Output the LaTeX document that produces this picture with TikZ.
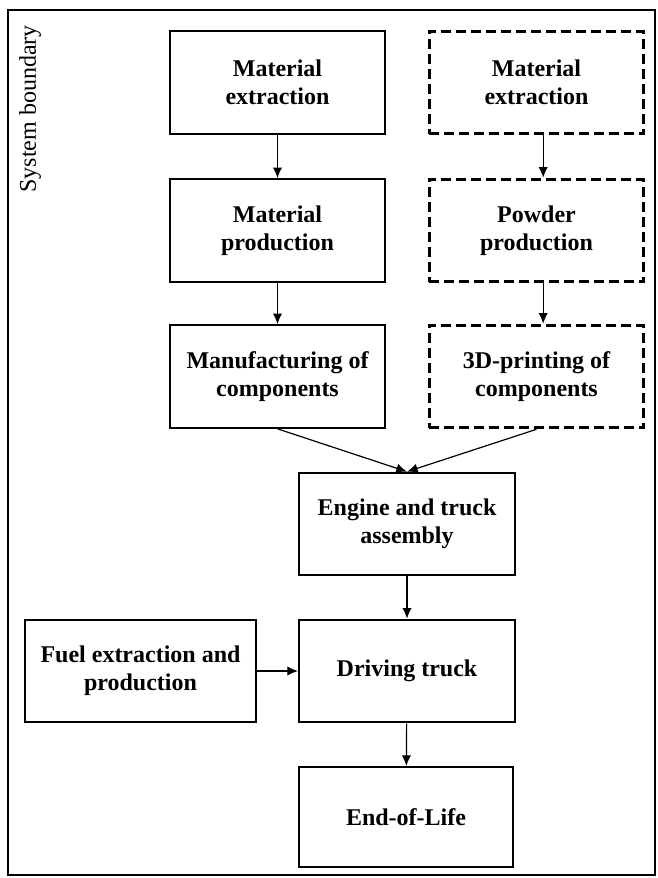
\documentclass[tikz,border=0pt]{standalone}
\usepackage{fontspec}
\setmainfont{Liberation Serif}
\usetikzlibrary{arrows.meta}

\tikzset{
  stage/.style={draw, line width=1.5pt, align=center, inner sep=0pt,
    font=\fontsize{18}{21}\selectfont\bfseries,
    minimum width=161pt, minimum height=77pt},
  optstage/.style={stage, line width=2.2pt, dash pattern=on 7.5pt off 3.75pt},
  flow/.style={-{Latex[length=8pt, width=7pt]}, line width=0.9pt}
}

\begin{document}
\begin{tikzpicture}[x=0.75pt, y=-0.75pt]
\useasboundingbox (0,0) rectangle (657,878);
% system boundary
\draw[line width=1.1pt] (8,10) rectangle (655,875);
\node (sysb) [rotate=90, anchor=north east, inner sep=0pt, font=\fontsize{18}{21}\selectfont] at (19,25) {System boundary};

% conventional route
\node (matL) [stage] at (277.5,82.5) {Material\\extraction};
\node (prodL) [stage] at (277.5,230.5) {Material\\production};
\node (manuL) [stage] at (277.5,376.5) {Manufacturing of\\components};

% additive route
\node (matR) [optstage] at (536.5,82.5) {Material\\extraction};
\node (powR) [optstage] at (536.5,230.5) {Powder\\production};
\node (printR) [optstage] at (536.5,376.5) {3D-printing of\\components};

% use phase
\node (engine) [stage, minimum width=162pt] at (407,524) {Engine and truck\\assembly};
\node (drive) [stage, minimum width=162pt] at (407,671) {Driving truck};
\node (eol) [stage, minimum width=161pt, minimum height=75pt] at (406,817) {End-of-Life};
\node (fuel) [stage, minimum width=173pt] at (140.5,671) {Fuel extraction and\\production};

\draw[flow] (matL) -- (prodL);
\draw[flow] (prodL) -- (manuL);
\draw[flow] ([xshift=5pt]matR.south) -- ([xshift=5pt]powR.north);
\draw[flow] ([xshift=5pt]powR.south) -- ([xshift=5pt]printR.north);
\draw[flow] (manuL.south) -- (engine.north);
\draw[flow] (printR.south) -- (engine.north);
\draw[flow] (engine) -- (drive);
\draw[flow] (fuel) -- (drive);
\draw[flow] (drive) -- (eol);
\end{tikzpicture}
\end{document}
